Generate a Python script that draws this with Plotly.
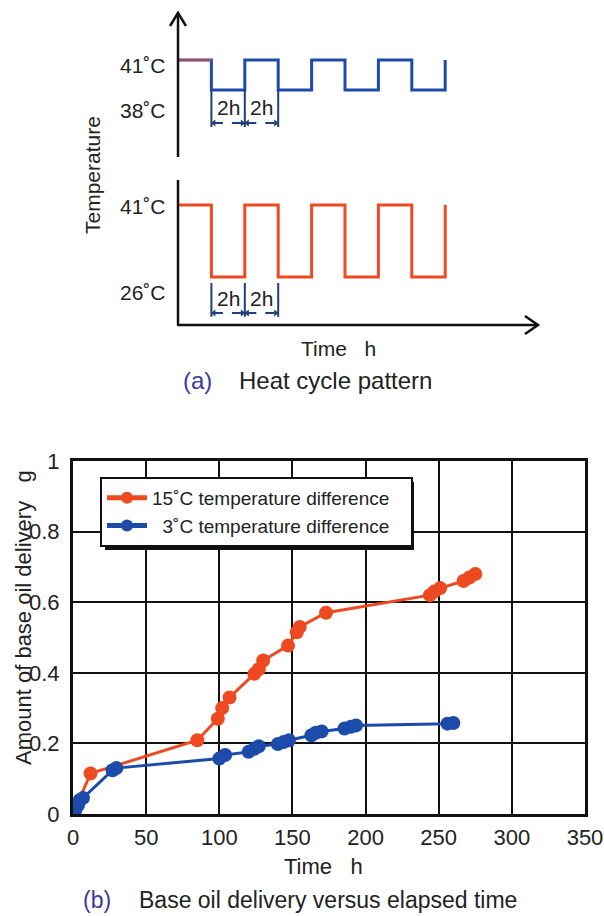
import plotly.graph_objects as go

W, H = 604, 916
FONT = "Liberation Sans, Arial, Helvetica, sans-serif"
TXT = "#222222"
ORANGE = "#EE4A22"
BLUE = "#1D4BAA"
NAVY = "#1F3F78"
CAPC = "#3A3A9E"

# ---------------- (a) heat cycle pattern data ----------------
cycle_t = [0, 2, 4, 6, 8, 10, 12, 14, 16]          # h, switching instants
top_temp = [41, 38, 41, 38, 41, 38, 41, 38, 41]     # 3 C difference
bot_temp = [41, 26, 41, 26, 41, 26, 41, 26, 41]     # 15 C difference
bracket_t = [2, 4, 6]
half_period_labels = ["2h", "2h"]

# ---------------- (b) base oil delivery data ----------------
t15 = [0, 3, 12, 85, 99, 102, 107, 124, 127, 130, 147, 153, 155, 173, 244, 247, 251, 267, 271, 275]
d15 = [0.0, 0.03, 0.115, 0.209, 0.27, 0.30, 0.33, 0.397, 0.41, 0.435, 0.477, 0.515, 0.53, 0.57,
       0.62, 0.63, 0.64, 0.66, 0.67, 0.68]
t3 = [0, 1.5, 3.4, 4.7, 6.8, 27, 29.6, 100, 104, 120, 124, 127, 140, 144, 147.6, 163, 166, 170,
      185.6, 190, 193.5, 256, 260]
d3 = [0.0, 0.01, 0.025, 0.04, 0.045, 0.124, 0.13, 0.157, 0.167, 0.176, 0.185, 0.192, 0.198, 0.204,
      0.209, 0.223, 0.23, 0.234, 0.242, 0.247, 0.251, 0.256, 0.258]
x_ticks = [0, 50, 100, 150, 200, 250, 300, 350]
y_ticks = [0, 0.2, 0.4, 0.6, 0.8, 1]

NB = "\u00a0"


def px(x):
    return x / W


def py(y):
    return 1 - y / H


fig = go.Figure()

# ---- schematic waves ----
fig.add_trace(go.Scatter(x=cycle_t, y=top_temp, mode="lines", line=dict(color=BLUE, width=3, shape="hv"),
                         xaxis="x2", yaxis="y2", showlegend=False, hoverinfo="skip"))
fig.add_trace(go.Scatter(x=cycle_t[:2], y=[top_temp[0]] * 2, mode="lines", line=dict(color=ORANGE, width=1.5),
                         xaxis="x2", yaxis="y2", showlegend=False, hoverinfo="skip"))
fig.add_trace(go.Scatter(x=cycle_t, y=bot_temp, mode="lines", line=dict(color=ORANGE, width=3, shape="hv"),
                         xaxis="x2", yaxis="y3", showlegend=False, hoverinfo="skip"))

# ---- 2h brackets ----
def brackets(yaxis, y_top, y_bot, y_arrow, y_text):
    xs, ys = [], []
    for t in bracket_t:
        xs += [t, t, None]
        ys += [y_top, y_bot, None]
    fig.add_trace(go.Scatter(x=xs, y=ys, mode="lines", line=dict(color=NAVY, width=2),
                             xaxis="x2", yaxis=yaxis, showlegend=False, hoverinfo="skip"))
    for a, b in zip(bracket_t[:-1], bracket_t[1:]):
        fig.add_trace(go.Scatter(x=[a + 0.15, b - 0.15], y=[y_arrow, y_arrow], mode="lines+markers",
                                 line=dict(color=NAVY, width=2, dash="dash"),
                                 marker=dict(symbol=["triangle-left", "triangle-right"], size=6, color=NAVY),
                                 xaxis="x2", yaxis=yaxis, showlegend=False, hoverinfo="skip"))
    for (a, b), lab in zip(zip(bracket_t[:-1], bracket_t[1:]), half_period_labels):
        fig.add_annotation(x=(a + b) / 2, y=y_text, xref="x2", yref=yaxis, text=lab, showarrow=False,
                           xanchor="center", yanchor="middle",
                           font=dict(size=21, color=TXT, family=FONT))


brackets("y2", 38, 34.3, 34.7, 36.3)
brackets("y3", 24.75, 17.7, 18.5, 21.6)

# ---- (b) data ----
fig.add_trace(go.Scatter(x=t15, y=d15, mode="lines+markers", name="15˚C temperature difference" + NB * 3,
                         line=dict(color=ORANGE, width=3), marker=dict(size=14, color=ORANGE),
                         legendgroup="a"))
fig.add_trace(go.Scatter(x=t3, y=d3, mode="lines+markers", name=NB * 2 + "3˚C temperature difference" + NB * 3,
                         line=dict(color=BLUE, width=3), marker=dict(size=14, color=BLUE),
                         legendgroup="b"))

# ---- axes ----
sch_x_px = (178, 538)
pph = 16.7  # px per hour in schematic
y2_px = (13, 157)
y3_px = (180, 325)
fig.update_layout(
    template="none",
    width=W, height=H, margin=dict(l=0, r=0, t=0, b=0, pad=0),
    paper_bgcolor="white", plot_bgcolor="white",
    font=dict(family=FONT, color=TXT),
    xaxis=dict(domain=[px(73), px(585)], range=[0, 350], tickvals=x_ticks, showgrid=True,
               gridcolor="#111111", gridwidth=2, showline=True, mirror=True, linecolor="#111111",
               linewidth=3, zeroline=False, ticks="", tickfont=dict(size=22, color=TXT),
               ticklabelstandoff=2, anchor="y", automargin=False),
    yaxis=dict(domain=[py(814), py(461)], range=[0, 1], tickvals=y_ticks, showgrid=True,
               gridcolor="#111111", gridwidth=2, showline=True, mirror=True, linecolor="#111111",
               linewidth=3, zeroline=False, ticks="", tickfont=dict(size=22, color=TXT),
               ticklabelstandoff=6, anchor="x", automargin=False),
    xaxis2=dict(domain=[px(sch_x_px[0]), px(sch_x_px[1])],
                range=[0, (sch_x_px[1] - sch_x_px[0]) / pph], visible=False, anchor="y3",
                automargin=False),
    yaxis2=dict(domain=[py(y2_px[1]), py(y2_px[0])],
                range=[41 - (y2_px[1] - 60) / 10, 41 + (60 - y2_px[0]) / 10], visible=False, anchor="x2",
                automargin=False),
    yaxis3=dict(domain=[py(y3_px[1]), py(y3_px[0])],
                range=[26 - (y3_px[1] - 277) / 4.8, 41 + (205 - y3_px[0]) / 4.8], visible=False, anchor="x2",
                automargin=False),
    legend=dict(x=px(100), y=py(477), xanchor="left", yanchor="top", bgcolor="white",
                bordercolor="#111111", borderwidth=2, font=dict(size=19, color=TXT, family=FONT),
                tracegroupgap=0, itemsizing="constant", itemwidth=40),
    showlegend=True,
    hovermode=False,
)

# ---- schematic axis lines and arrowheads (decoration) ----
K = "#111111"
shapes = [
    dict(type="line", xref="paper", yref="paper", x0=px(178), x1=px(178), y0=py(13), y1=py(157),
         line=dict(color=K, width=2.5)),
    dict(type="path", xref="paper", yref="paper",
         path=f"M {px(170)},{py(26)} L {px(178)},{py(13)} L {px(186)},{py(26)}", line=dict(color=K, width=2.5)),
    dict(type="line", xref="paper", yref="paper", x0=px(178), x1=px(178), y0=py(180), y1=py(325),
         line=dict(color=K, width=2.5)),
    dict(type="line", xref="paper", yref="paper", x0=px(177), x1=px(538), y0=py(325), y1=py(325),
         line=dict(color=K, width=2.5)),
    dict(type="path", xref="paper", yref="paper",
         path=f"M {px(525)},{py(316)} L {px(538)},{py(325)} L {px(525)},{py(334)}", line=dict(color=K, width=2.5)),
    # legend drop shadow
    dict(type="rect", xref="paper", yref="paper", x0=px(105), x1=px(414), y0=py(550), y1=py(482),
         fillcolor=K, line=dict(width=0), layer="above"),
]
fig.update_layout(shapes=shapes)

ann = [
    dict(x=px(168), y=40.5, xref="paper", yref="y2", text="41˚C"),
    dict(x=px(168), y=36.0, xref="paper", yref="y2", text="38˚C"),
    dict(x=px(168), y=40.6, xref="paper", yref="y3", text="41˚C"),
    dict(x=px(168), y=22.7, xref="paper", yref="y3", text="26˚C"),
]
for a in ann:
    fig.add_annotation(**a, showarrow=False, xanchor="right", yanchor="middle",
                       font=dict(size=21, color=TXT, family=FONT))


def label(x, y, text, size, color=TXT, angle=0, xanchor="center"):
    fig.add_annotation(x=px(x), y=py(y), xref="paper", yref="paper", text=text, textangle=angle,
                       xanchor=xanchor, yanchor="middle", showarrow=False,
                       font=dict(size=size, color=color, family=FONT))


label(92, 175, "Temperature", 21, angle=-90)
label(338, 348, "Time" + NB * 3 + "h", 21)
label(197, 381, "(a)", 24, color=CAPC)
label(237, 381, "Heat cycle pattern", 24, xanchor="left")

label(23, 618, "Amount of base oil delivery" + NB * 3 + "g", 22, angle=-90)
label(323, 866, "Time" + NB * 3 + "h", 22)
label(97, 900, "(b)", 23, color=CAPC)
label(137, 900, "Base oil delivery versus elapsed time", 23, xanchor="left")

fig.write_html("out.html")
